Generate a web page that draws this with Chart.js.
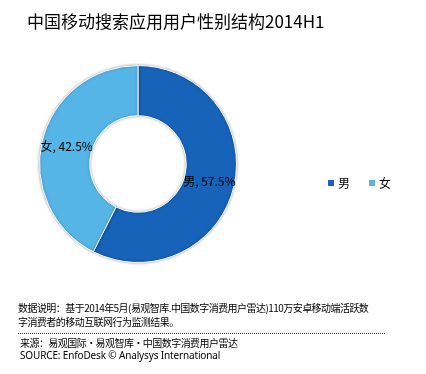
<!DOCTYPE html>
<html>
<head>
<meta charset="utf-8">
<script src="https://cdn.jsdelivr.net/npm/chart.js@4/dist/chart.umd.min.js"></script>
<style>
  body { margin: 0; background: #fff; font-family: "Noto Sans CJK SC", "Noto Sans", sans-serif; }
  #wrap { position: relative; width: 426px; height: 374px; overflow: hidden; }
  #canvas { position: absolute; left: 0; top: 0; }
  .txt { position: absolute; white-space: nowrap; color: #000; }
  #title { left: 27px; top: 9px; font-size: 17px; line-height: 24px; }
  #note { left: 18px; top: 301px; font-size: 10px; line-height: 14px; letter-spacing: -0.55px; }
  #rule { position: absolute; left: 18px; top: 333px; width: 367px; border-top: 1px dotted #444; }
  #src { left: 20px; top: 337px; font-size: 10px; line-height: 12px; letter-spacing: -0.55px; }
  #src2 { left: 20px; top: 349px; font-size: 10px; line-height: 12px; font-family: "Noto Sans", sans-serif; letter-spacing: -0.15px; }
</style>
</head>
<body>
<div id="wrap">
  <canvas id="canvas" width="426" height="374"></canvas>
  <div class="txt" id="title">中国移动搜索应用用户性别结构2014H1</div>
  <div class="txt" id="note">数据说明：基于2014年5月(易观智库.中国数字消费用户雷达)110万安卓移动端活跃数<br>字消费者的移动互联网行为监测结果。</div>
  <div id="rule"></div>
  <div class="txt" id="src">来源：易观国际·易观智库·中国数字消费用户雷达</div>
  <div class="txt" id="src2">SOURCE: EnfoDesk © Analysys International</div>
</div>
<script>
var labels = ["男", "女"];
var shares = [57.5, 42.5];
var colors = ['#1763b9', '#56b5e7'];

var shadowPlugin = {
    id: 'shadow',
    beforeDatasetDraw: function(chart) {
        var ctx = chart.ctx;
        ctx.save();
        ctx.shadowColor = 'rgba(0,0,0,0.35)';
        ctx.shadowBlur = 3;
    },
    afterDatasetDraw: function(chart) {
        chart.ctx.restore();
    }
};

var labelPlugin = {
    id: 'sliceLabels',
    afterDatasetsDraw: function(chart) {
        var ctx = chart.ctx;
        var meta = chart.getDatasetMeta(0);
        ctx.save();
        ctx.font = '12px "Noto Sans CJK SC", sans-serif';
        ctx.fillStyle = '#000';
        ctx.textAlign = 'center';
        ctx.textBaseline = 'middle';
        meta.data.forEach(function(arc, i) {
            var p = arc.tooltipPosition();
            ctx.fillText(chart.data.labels[i] + ', ' + chart.data.datasets[0].data[i] + '%', p.x, p.y);
        });
        // legend
        var x = 328, y = 183;
        ctx.textAlign = 'left';
        chart.data.labels.forEach(function(l, i) {
            ctx.fillStyle = chart.data.datasets[0].backgroundColor[i];
            ctx.fillRect(x, y - 3, 6, 6);
            ctx.fillStyle = '#000';
            ctx.fillText(l, x + 10, y);
            x += 41;
        });
        ctx.restore();
    }
};

var config = {
    type: 'doughnut',
    data: {
        labels: labels,
        datasets: [{
            data: shares,
            backgroundColor: colors,
            borderColor: '#ffffff',
            borderWidth: 1
        }]
    },
    options: {
        responsive: false,
        animation: false,
        cutout: '49%',
        layout: { padding: { left: 38, right: 188, top: 65, bottom: 111 } },
        plugins: {
            legend: { display: false },
            title: { display: false },
            tooltip: { enabled: false }
        }
    },
    plugins: [shadowPlugin, labelPlugin]
};
window.onload = function() {
    window.myDonut = new Chart(document.getElementById("canvas"), config);
};
</script>
</body>
</html>
